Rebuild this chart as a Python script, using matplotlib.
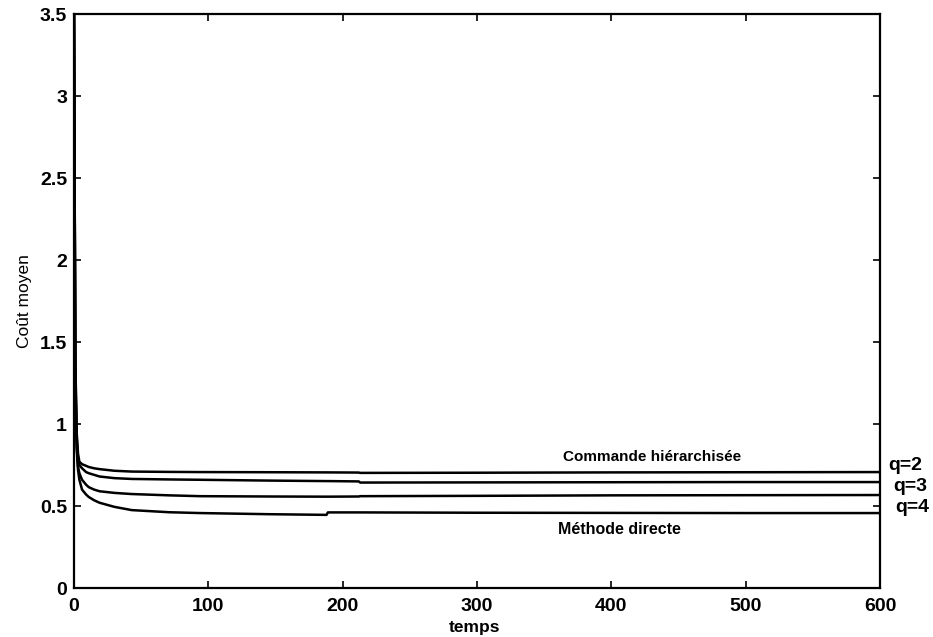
import matplotlib
matplotlib.use("Agg")
import matplotlib.pyplot as plt

plt.rcParams['font.family'] = ['Liberation Sans', 'DejaVu Sans']

# temps (échantillons)
temps = [0, 1, 2, 3, 4, 6, 9, 11, 15, 19, 30, 43, 71, 94, 146, 188, 189,
         212, 213, 300, 400, 500, 600]

# coût moyen, commande hiérarchisée q=2, q=3, q=4 et méthode directe
cout_q2 = [3.5, 1.40, 0.95, 0.82, 0.77, 0.755, 0.745, 0.738, 0.73, 0.725, 0.715,
           0.71, 0.708, 0.707, 0.706, 0.705, 0.705, 0.704, 0.702, 0.703, 0.705,
           0.706, 0.707]
cout_q3 = [3.5, 1.35, 0.92, 0.78, 0.75, 0.73, 0.707, 0.70, 0.69, 0.68, 0.67,
           0.665, 0.662, 0.66, 0.655, 0.652, 0.652, 0.65, 0.643, 0.644, 0.645,
           0.646, 0.646]
cout_q4 = [3.5, 1.30, 0.88, 0.74, 0.70, 0.66, 0.63, 0.615, 0.60, 0.59, 0.58,
           0.573, 0.565, 0.56, 0.558, 0.557, 0.557, 0.558, 0.56, 0.562, 0.565,
           0.566, 0.567]
cout_direct = [3.5, 1.25, 0.85, 0.72, 0.66, 0.60, 0.57, 0.555, 0.535, 0.52, 0.495,
               0.475, 0.462, 0.457, 0.45, 0.446, 0.461, 0.461, 0.461, 0.459,
               0.458, 0.457, 0.457]

xticks = [0, 100, 200, 300, 400, 500, 600]
yticks = [0, 0.5, 1, 1.5, 2, 2.5, 3, 3.5]
ytick_labels = ["0", "0.5", "1", "1.5", "2", "2.5", "3", "3.5"]

fig = plt.figure(figsize=(9.33, 6.37), dpi=100)
ax = fig.add_axes([0.0793, 0.0769, 0.8639, 0.9011])

for serie in [cout_q2, cout_q3, cout_q4, cout_direct]:
    ax.plot(temps, serie, color="black", linewidth=1.8)

ax.set_xlim(0, 600)
ax.set_ylim(0, 3.5)
ax.set_xticks(xticks)
ax.set_yticks(yticks)
ax.set_yticklabels(ytick_labels)
ax.tick_params(direction="in", length=5, width=1.2, labelsize=14,
               top=True, right=True)
ax.tick_params(axis="x", pad=7)
ax.tick_params(axis="y", pad=5)
for lab in ax.get_xticklabels() + ax.get_yticklabels():
    lab.set_fontweight("bold")
for s in ax.spines.values():
    s.set_linewidth(1.6)

ax.set_xlabel("temps", fontsize=12.5, fontweight="bold", va="center")
ax.xaxis.set_label_coords(0.497, -0.068)
ax.set_ylabel("Coût moyen", fontsize=12.5, va="center")
ax.yaxis.set_label_coords(-0.062, 0.5)

ax.text(430, 0.80, "Commande hiérarchisée", fontsize=11, fontweight="bold",
        ha="center", va="center")
ax.text(406, 0.354, "Méthode directe", fontsize=11.5, fontweight="bold",
        ha="center", va="center")
ax.text(606, 0.75, "q=2", fontsize=14, fontweight="bold", ha="left",
        va="center", clip_on=False)
ax.text(610, 0.616, "q=3", fontsize=14, fontweight="bold", ha="left",
        va="center", clip_on=False)
ax.text(611, 0.488, "q=4", fontsize=14, fontweight="bold", ha="left",
        va="center", clip_on=False)

fig.savefig("out.png", dpi=100)
